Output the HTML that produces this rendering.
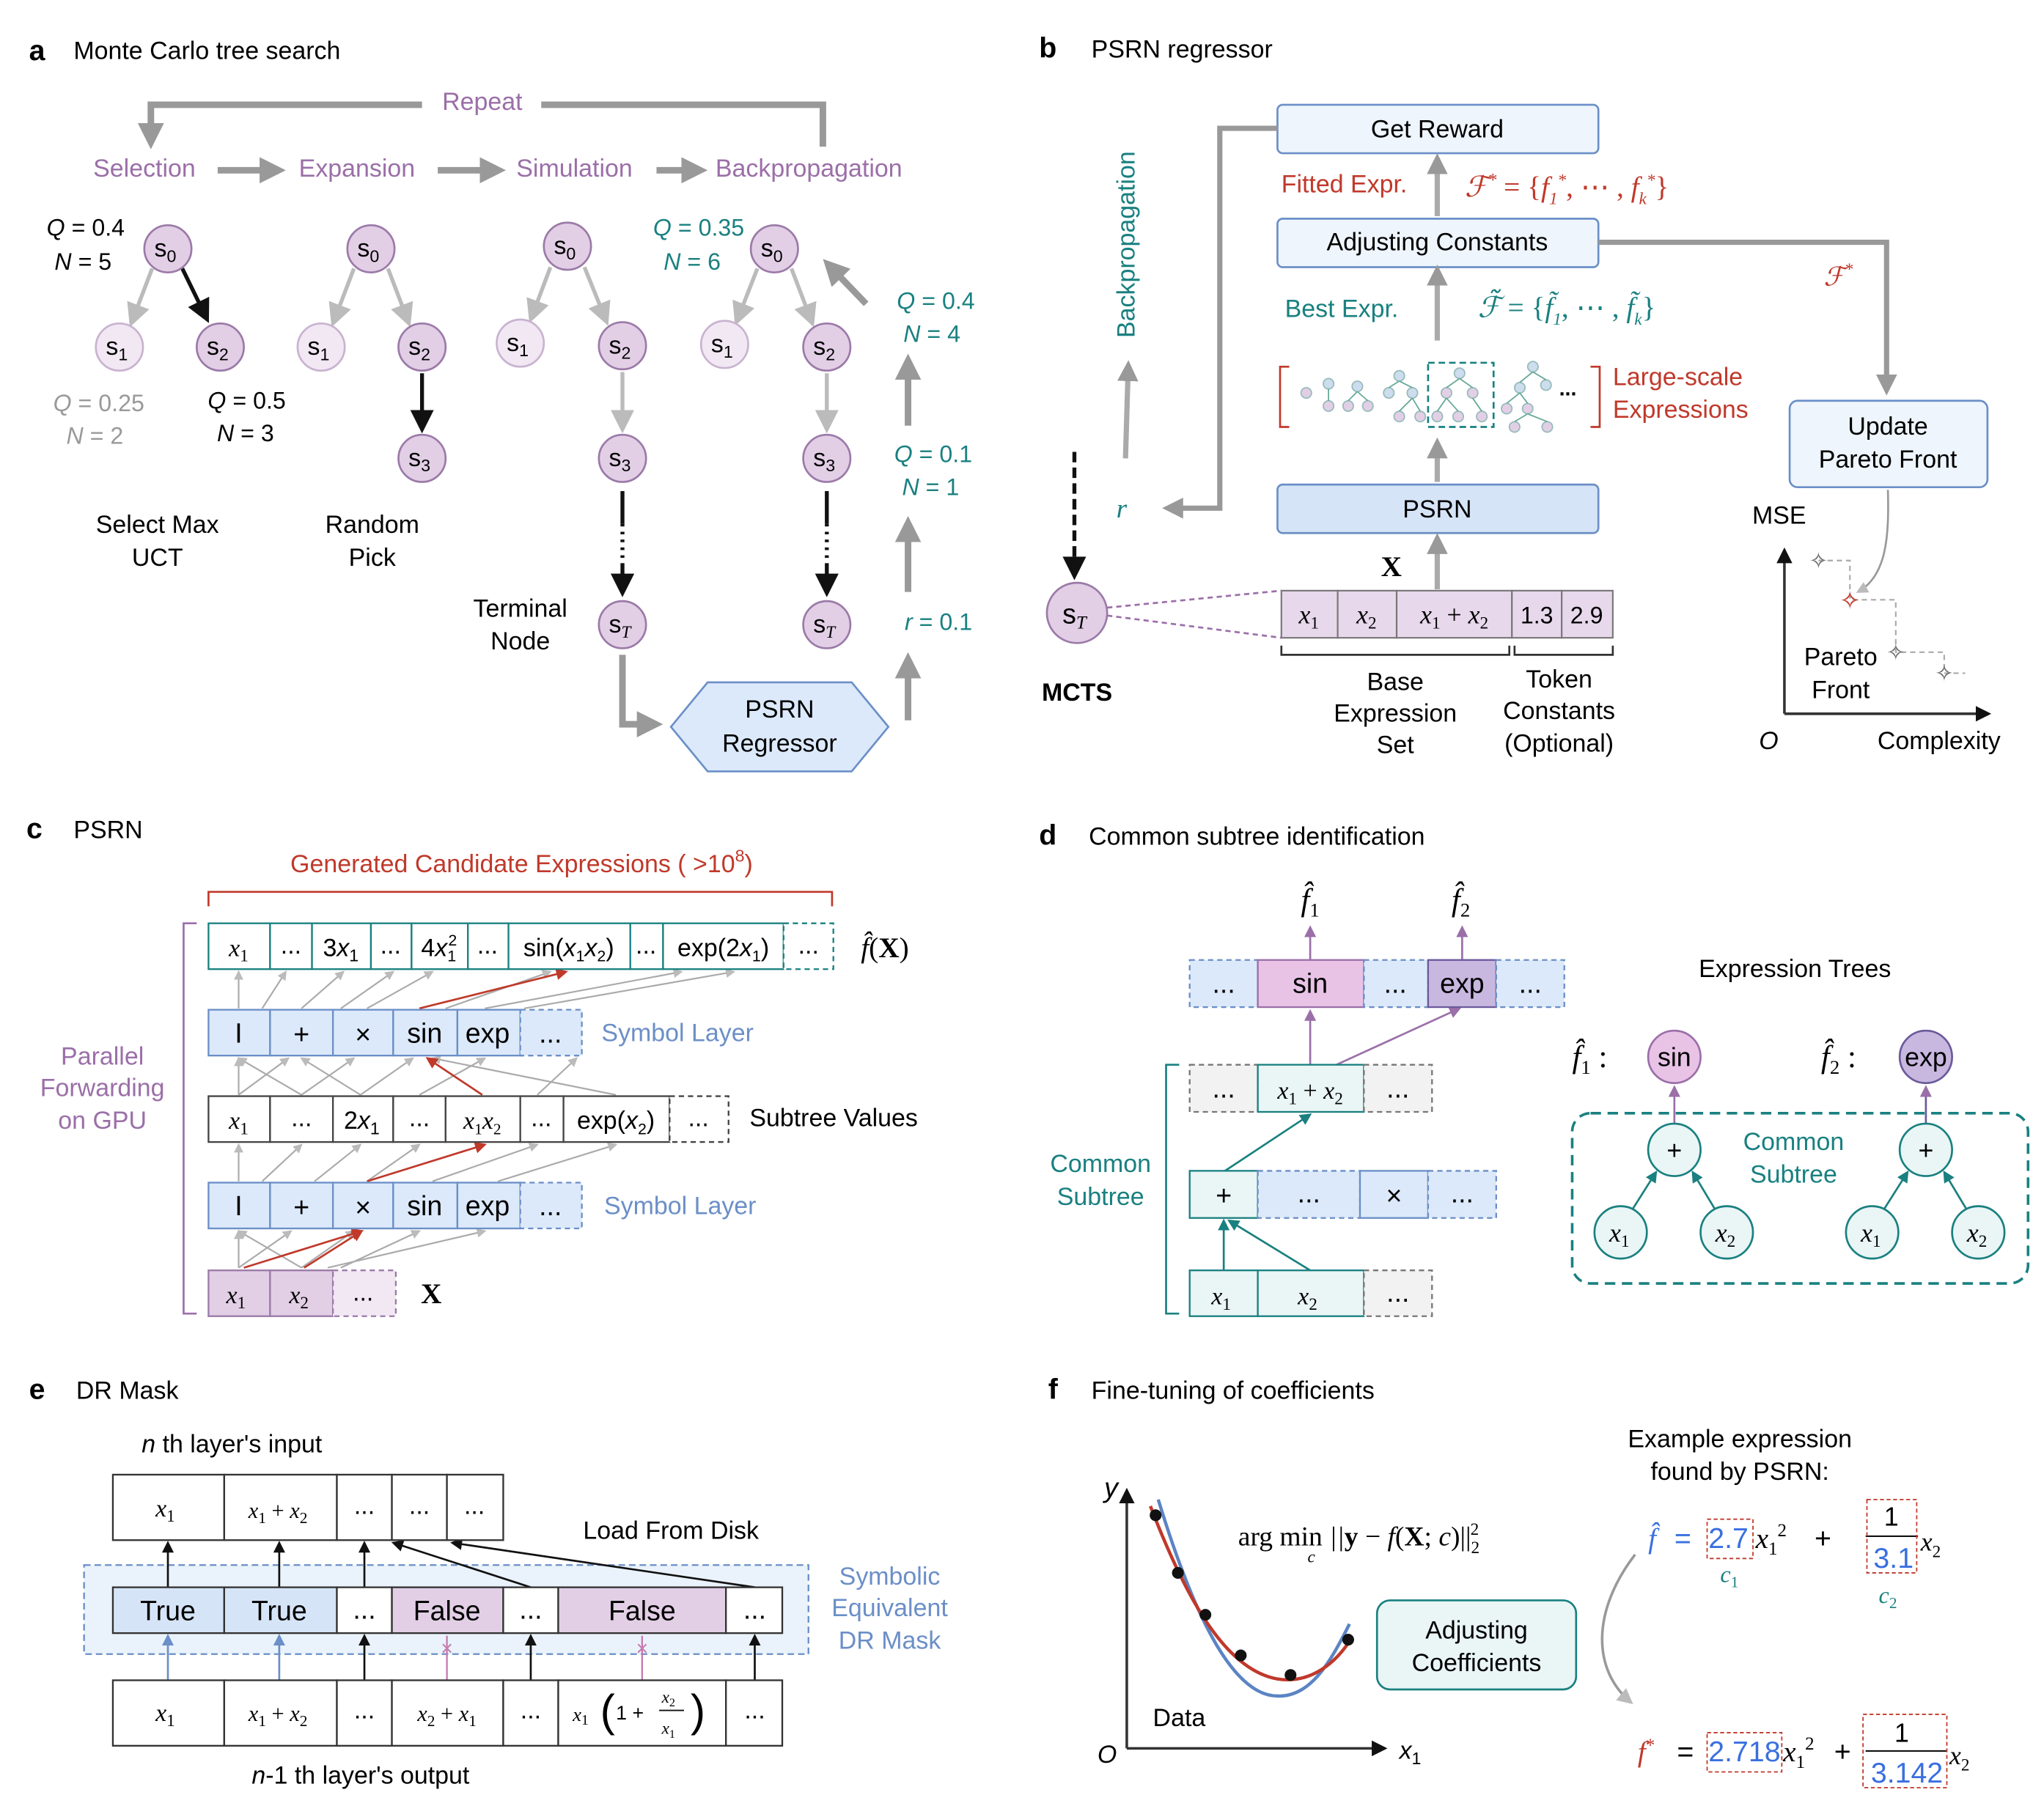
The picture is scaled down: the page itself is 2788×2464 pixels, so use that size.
<!DOCTYPE html>
<html><head><meta charset="utf-8">
<style>
html,body{margin:0;padding:0;background:#fff;}
svg{display:block;}
text{font-family:"Liberation Sans",sans-serif;}
.m{font-family:"Liberation Serif",serif;font-style:italic;}
.r{font-family:"Liberation Serif",serif;}
</style></head><body>
<svg width="2788" height="2464" viewBox="0 0 1560 1379" xmlns="http://www.w3.org/2000/svg">
<defs>
<marker id="ag" markerWidth="4" markerHeight="4" refX="2" refY="2" orient="auto" markerUnits="strokeWidth"><path d="M0,0L4,2L0,4z" fill="#999"/></marker>
<marker id="ak" markerWidth="6" markerHeight="6" refX="5" refY="3" orient="auto"><path d="M0,0L6,3L0,6z" fill="#111"/></marker>
<marker id="alg" markerWidth="6" markerHeight="6" refX="5" refY="3" orient="auto"><path d="M0,0L6,3L0,6z" fill="#bbb"/></marker>
<marker id="ar" markerWidth="6" markerHeight="6" refX="5" refY="3" orient="auto"><path d="M0,0L6,3L0,6z" fill="#c0392b"/></marker>
<marker id="at" markerWidth="6" markerHeight="6" refX="5" refY="3" orient="auto"><path d="M0,0L6,3L0,6z" fill="#1a8080"/></marker>
<marker id="ap" markerWidth="6" markerHeight="6" refX="5" refY="3" orient="auto"><path d="M0,0L6,3L0,6z" fill="#9b6fa8"/></marker>
<marker id="ab" markerWidth="6" markerHeight="6" refX="5" refY="3" orient="auto"><path d="M0,0L6,3L0,6z" fill="#6b8fc7"/></marker>
</defs>

<!-- ================= a ================= -->
<text x="22" y="46" font-size="22" font-weight="bold">a</text>
<text x="56" y="45" font-size="19">Monte Carlo tree search</text>
<path d="M628,112 V80 H413 M322,80 H115 V104" fill="none" stroke="#999" stroke-width="5" marker-end="url(#ag)"/>
<text x="368" y="84" font-size="19" fill="#9b6fa8" text-anchor="middle">Repeat</text>
<g font-size="19" fill="#9b6fa8">
<text x="71" y="135">Selection</text><text x="228" y="135">Expansion</text>
<text x="394" y="135">Simulation</text><text x="546" y="135">Backpropagation</text></g>
<g stroke="#999" stroke-width="5" marker-end="url(#ag)">
<line x1="166" y1="130" x2="208" y2="130"/><line x1="334" y1="130" x2="376" y2="130"/><line x1="501" y1="130" x2="530" y2="130"/></g>

<!-- tree edges -->
<g stroke="#bbb" stroke-width="3" marker-end="url(#alg)" fill="none">
<line x1="116" y1="205" x2="100" y2="247"/>
<line x1="270" y1="205" x2="254" y2="247"/><line x1="296" y1="205" x2="312" y2="247"/>
<line x1="420" y1="204" x2="405" y2="244"/><line x1="446" y1="204" x2="463" y2="246"/>
<line x1="475" y1="284" x2="475" y2="328"/>
<line x1="578" y1="205" x2="562" y2="246"/><line x1="604" y1="205" x2="620" y2="247"/>
<line x1="631" y1="285" x2="631" y2="328"/>
</g>
<g stroke="#111" stroke-width="3" marker-end="url(#ak)">
<line x1="139" y1="205" x2="158" y2="244"/>
<line x1="322" y1="285" x2="322" y2="328"/>
</g>
<g stroke="#111" stroke-width="3">
<line x1="475" y1="375" x2="475" y2="400"/><line x1="475" y1="430" x2="475" y2="453" marker-end="url(#ak)"/>
<line x1="631" y1="375" x2="631" y2="400"/><line x1="631" y1="430" x2="631" y2="453" marker-end="url(#ak)"/>
</g>
<g stroke="#111" stroke-width="3" stroke-dasharray="2,4"><line x1="475" y1="400" x2="475" y2="430"/><line x1="631" y1="400" x2="631" y2="430"/></g>

<g fill="#e2cfe6" stroke="#9b7aa8" stroke-width="1.5">
<circle cx="128" cy="190" r="18"/><circle cx="168" cy="265" r="18"/>
<circle cx="283" cy="190" r="18"/><circle cx="322" cy="265" r="18"/><circle cx="322" cy="350" r="18"/>
<circle cx="433" cy="188" r="18"/><circle cx="475" cy="264" r="18"/><circle cx="475" cy="350" r="18"/><circle cx="475" cy="477" r="18"/>
<circle cx="591" cy="190" r="18"/><circle cx="631" cy="265" r="18"/><circle cx="631" cy="350" r="18"/><circle cx="631" cy="477" r="18"/>
</g>
<g fill="#f2e8f4" stroke="#c9b3d0" stroke-width="1.5">
<circle cx="91" cy="265" r="18"/><circle cx="245" cy="265" r="18"/><circle cx="397" cy="262" r="18"/><circle cx="553" cy="263" r="18"/>
</g>
<g font-size="19" text-anchor="middle">
<text x="126" y="196">s<tspan font-size="13" dy="4">0</tspan></text>
<text x="89" y="271">s<tspan font-size="13" dy="4">1</tspan></text>
<text x="166" y="271">s<tspan font-size="13" dy="4">2</tspan></text>
<text x="281" y="196">s<tspan font-size="13" dy="4">0</tspan></text>
<text x="243" y="271">s<tspan font-size="13" dy="4">1</tspan></text>
<text x="320" y="271">s<tspan font-size="13" dy="4">2</tspan></text>
<text x="320" y="356">s<tspan font-size="13" dy="4">3</tspan></text>
<text x="431" y="194">s<tspan font-size="13" dy="4">0</tspan></text>
<text x="395" y="268">s<tspan font-size="13" dy="4">1</tspan></text>
<text x="473" y="270">s<tspan font-size="13" dy="4">2</tspan></text>
<text x="473" y="356">s<tspan font-size="13" dy="4">3</tspan></text>
<text x="473" y="483">s<tspan font-size="13" dy="4" class="m">T</tspan></text>
<text x="589" y="196">s<tspan font-size="13" dy="4">0</tspan></text>
<text x="551" y="269">s<tspan font-size="13" dy="4">1</tspan></text>
<text x="629" y="271">s<tspan font-size="13" dy="4">2</tspan></text>
<text x="629" y="356">s<tspan font-size="13" dy="4">3</tspan></text>
<text x="629" y="483">s<tspan font-size="13" dy="4" class="m">T</tspan></text>
</g>
<g font-size="18" text-anchor="end">
<text x="95" y="180"><tspan font-style="italic">Q</tspan> = 0.4</text>
<text x="85" y="206"><tspan font-style="italic">N</tspan> = 5</text>
<text x="110" y="314" fill="#999"><tspan font-style="italic">Q</tspan> = 0.25</text>
<text x="94" y="339" fill="#999"><tspan font-style="italic">N</tspan> = 2</text>
<text x="218" y="312"><tspan font-style="italic">Q</tspan> = 0.5</text>
<text x="209" y="337"><tspan font-style="italic">N</tspan> = 3</text>
</g>
<g font-size="18" fill="#1a8080" text-anchor="end">
<text x="568" y="180"><tspan font-style="italic">Q</tspan> = 0.35</text>
<text x="550" y="206"><tspan font-style="italic">N</tspan> = 6</text>
<text x="744" y="236"><tspan font-style="italic">Q</tspan> = 0.4</text>
<text x="733" y="261"><tspan font-style="italic">N</tspan> = 4</text>
<text x="742" y="353"><tspan font-style="italic">Q</tspan> = 0.1</text>
<text x="732" y="378"><tspan font-style="italic">N</tspan> = 1</text>
<text x="742" y="481"><tspan font-style="italic">r</tspan> = 0.1</text>
</g>
<g font-size="19" text-anchor="middle">
<text x="120" y="407">Select Max</text><text x="120" y="432">UCT</text>
<text x="284" y="407">Random</text><text x="284" y="432">Pick</text>
<text x="397" y="471">Terminal</text><text x="397" y="496">Node</text>
</g>
<g stroke="#999" stroke-width="5" fill="none" marker-end="url(#ag)">
<path d="M475,500 V553 H496"/>
<path d="M693,550 V508"/>
<path d="M693,452 V404"/>
<path d="M693,325 V280"/>
<path d="M661,232 L635,205"/>
</g>
<polygon points="512,555 540,521 650,521 678,555 650,589 540,589" fill="#dce9fa" stroke="#6b8fc7" stroke-width="1.5"/>
<text x="595" y="548" font-size="19" text-anchor="middle">PSRN</text>
<text x="595" y="574" font-size="19" text-anchor="middle">Regressor</text>

<!-- ================= b ================= -->
<text x="793" y="44" font-size="22" font-weight="bold">b</text>
<text x="833" y="44" font-size="19">PSRN regressor</text>
<g fill="#eef5fc" stroke="#6b8fc7" stroke-width="1.5">
<rect x="975" y="80" width="245" height="37" rx="4"/>
<rect x="975" y="167" width="245" height="37" rx="4"/>
<rect x="1366" y="306" width="151" height="66" rx="6"/>
</g>
<rect x="975" y="370" width="245" height="37" rx="4" fill="#d6e4f7" stroke="#6b8fc7" stroke-width="1.5"/>
<g font-size="19" text-anchor="middle">
<text x="1097" y="105">Get Reward</text>
<text x="1097" y="191">Adjusting Constants</text>
<text x="1097" y="395">PSRN</text>
<text x="1441" y="332">Update</text><text x="1441" y="357">Pareto Front</text>
</g>
<path d="M975,98 H931 V388 H895" fill="none" stroke="#999" stroke-width="4" marker-end="url(#ag)"/>
<path d="M1220,185 H1440 V294" fill="none" stroke="#999" stroke-width="4" marker-end="url(#ag)"/>
<g stroke="#aaa" stroke-width="4" fill="none" marker-end="url(#ag)">
<line x1="1097" y1="165" x2="1097" y2="125"/>
<line x1="1097" y1="260" x2="1097" y2="210"/>
<line x1="1097" y1="368" x2="1097" y2="342"/>
<line x1="1097" y1="450" x2="1097" y2="415"/>
<line x1="859" y1="350" x2="861" y2="283"/>
</g>
<text x="866" y="258" font-size="19" fill="#1a8080" transform="rotate(-90 866 258)">Backpropagation</text>
<text x="852" y="395" font-size="21" fill="#1a8080" class="m">r</text>
<text x="1026" y="147" font-size="19" fill="#c0392b" text-anchor="middle">Fitted Expr.</text>
<text x="1118" y="150" font-size="22" fill="#c0392b" class="m">ℱ<tspan font-size="14" dy="-8">*</tspan><tspan dy="8" font-style="normal"> = {</tspan>f<tspan font-size="13" dy="6">1</tspan><tspan font-size="13" dy="-14">*</tspan><tspan dy="8" font-style="normal">, ⋯ , </tspan>f<tspan font-size="13" dy="6">k</tspan><tspan font-size="13" dy="-14">*</tspan><tspan dy="8" font-style="normal">}</tspan></text>
<text x="1024" y="242" font-size="19" fill="#1a8080" text-anchor="middle">Best Expr.</text>
<text x="1128" y="242" font-size="22" fill="#1a8080" class="m">ℱ̃<tspan font-style="normal"> = {</tspan>f̃<tspan font-size="13" dy="6">1</tspan><tspan dy="-6" font-style="normal">, ⋯ , </tspan>f̃<tspan font-size="13" dy="6">k</tspan><tspan dy="-6" font-style="normal">}</tspan></text>
<text x="1392" y="218" font-size="20" fill="#c0392b" class="m">ℱ<tspan font-size="13" dy="-8">*</tspan></text>
<!-- large-scale expressions -->
<path d="M984,280 H977 V326 H984 M1214,280 H1221 V326 H1214" fill="none" stroke="#c0392b" stroke-width="1.5"/>
<g stroke="#9bb" stroke-width="1" fill="#e2cfe6">
<circle cx="997" cy="300" r="4"/><circle cx="1014" cy="293" r="4" fill="#cde"/><circle cx="1014" cy="310" r="4"/><circle cx="1036" cy="295" r="4" fill="#cde"/><circle cx="1029" cy="310" r="4"/><circle cx="1044" cy="310" r="4"/>
<circle cx="1060" cy="300" r="4" fill="#cde"/><circle cx="1068" cy="287" r="4" fill="#cde"/><circle cx="1078" cy="300" r="4" fill="#cde"/><circle cx="1068" cy="318" r="4"/><circle cx="1084" cy="318" r="4"/>
<circle cx="1114" cy="285" r="4" fill="#cde"/><circle cx="1104" cy="300" r="4"/><circle cx="1124" cy="300" r="4"/><circle cx="1097" cy="318" r="4"/><circle cx="1113" cy="318" r="4"/><circle cx="1131" cy="318" r="4"/>
<circle cx="1170" cy="280" r="4" fill="#cde"/><circle cx="1160" cy="296" r="4" fill="#cde"/><circle cx="1180" cy="294" r="4" fill="#cde"/><circle cx="1150" cy="312" r="4"/><circle cx="1166" cy="312" r="4"/><circle cx="1156" cy="326" r="4"/><circle cx="1181" cy="326" r="4"/>
</g>
<g stroke="#6a9" stroke-width="1">
<path d="M1014,297 V306 M1036,299 L1029,306 M1036,299 L1044,306 M1068,291 L1060,296 M1068,291 L1078,296 M1078,304 L1068,314 M1078,304 L1084,314 M1114,289 L1104,296 M1114,289 L1124,296 M1104,304 L1097,314 M1104,304 L1113,314 M1124,304 L1131,314 M1170,284 L1160,292 M1170,284 L1180,290 M1160,300 L1150,308 M1160,300 L1166,308 M1166,316 L1156,322 M1166,316 L1181,322"/>
</g>
<rect x="1090" y="277" width="50" height="49" fill="none" stroke="#1a8080" stroke-width="1.5" stroke-dasharray="5,3"/>
<text x="1190" y="302" font-size="16" font-weight="bold">...</text>
<text x="1231" y="294" font-size="19" fill="#c0392b">Large-scale</text>
<text x="1231" y="319" font-size="19" fill="#c0392b">Expressions</text>
<text x="1062" y="440" font-size="22" class="r" font-weight="bold" text-anchor="middle">X</text>
<!-- table -->
<g fill="#e8d8ec" stroke="#777" stroke-width="1.2">
<rect x="978" y="451" width="43" height="36"/><rect x="1021" y="451" width="45" height="36"/><rect x="1066" y="451" width="88" height="36"/><rect x="1154" y="451" width="38" height="36"/><rect x="1192" y="451" width="39" height="36"/>
</g>
<g font-size="20" text-anchor="middle">
<text x="999" y="476" class="m">x<tspan font-size="13" dy="4" font-style="normal">1</tspan></text>
<text x="1043" y="476" class="m">x<tspan font-size="13" dy="4" font-style="normal">2</tspan></text>
<text x="1110" y="476" class="m">x<tspan font-size="13" dy="4" font-style="normal">1</tspan><tspan dy="-4" font-style="normal"> + </tspan>x<tspan font-size="13" dy="4" font-style="normal">2</tspan></text>
<text x="1173" y="476" font-size="18">1.3</text>
<text x="1211" y="476" font-size="18">2.9</text>
</g>
<path d="M978,493 V500 H1152 V493 M1156,493 V500 H1231 V493" fill="none" stroke="#333" stroke-width="1.5"/>
<g font-size="19" text-anchor="middle">
<text x="1065" y="527">Base</text><text x="1065" y="551">Expression</text><text x="1065" y="575">Set</text>
<text x="1190" y="525">Token</text><text x="1190" y="549">Constants</text><text x="1190" y="574">(Optional)</text>
</g>
<line x1="820" y1="345" x2="820" y2="432" stroke="#111" stroke-width="3" stroke-dasharray="8,4"/>
<line x1="820" y1="425" x2="820" y2="440" stroke="#111" stroke-width="3" marker-end="url(#ak)"/>
<circle cx="822" cy="468" r="23" fill="#e2cfe6" stroke="#9b7aa8" stroke-width="1.5"/>
<text x="820" y="476" font-size="21" text-anchor="middle">s<tspan font-size="14" dy="4" class="m">T</tspan></text>
<path d="M845,464 L978,451 M845,470 L978,487" stroke="#9b6fa8" stroke-width="1.5" stroke-dasharray="4,3"/>
<text x="822" y="535" font-size="19" font-weight="bold" text-anchor="middle">MCTS</text>
<!-- pareto -->
<path d="M1362,545 V420" stroke="#333" stroke-width="2" marker-end="url(#ak)"/>
<path d="M1362,545 H1518" stroke="#333" stroke-width="2" marker-end="url(#ak)"/>
<text x="1358" y="400" font-size="19" text-anchor="middle">MSE</text>
<text x="1350" y="572" font-size="19" font-style="italic" text-anchor="middle">O</text>
<text x="1480" y="572" font-size="19" text-anchor="middle">Complexity</text>
<text x="1405" y="508" font-size="19" text-anchor="middle">Pareto</text>
<text x="1405" y="533" font-size="19" text-anchor="middle">Front</text>
<path d="M1388,428 H1412 V458 H1447 V498 H1484 V514 H1500" fill="none" stroke="#aaa" stroke-width="1.2" stroke-dasharray="4,3"/>
<g font-size="17" text-anchor="middle" fill="#666"><text x="1388" y="434">✧</text><text x="1447" y="504">✧</text><text x="1484" y="520">✧</text></g>
<text x="1412" y="465" font-size="19" fill="#c0392b" text-anchor="middle">✧</text>
<path d="M1441,374 C1442,410 1440,440 1418,452" fill="none" stroke="#999" stroke-width="1.5" marker-end="url(#alg)"/>

<!-- ================= c ================= -->
<text x="20" y="640" font-size="22" font-weight="bold">c</text>
<text x="56" y="640" font-size="19">PSRN</text>
<text x="398" y="666" font-size="19" fill="#c0392b" text-anchor="middle">Generated Candidate Expressions ( &gt;10<tspan font-size="13" dy="-8">8</tspan><tspan dy="8">)</tspan></text>
<path d="M159,692 V681 H635 V692" fill="none" stroke="#c0392b" stroke-width="1.5"/>
<path d="M150,705 H140 V1003 H150" fill="none" stroke="#9b6fa8" stroke-width="1.5"/>
<g font-size="19" fill="#9b6fa8" text-anchor="middle"><text x="78" y="813">Parallel</text><text x="78" y="837">Forwarding</text><text x="78" y="862">on GPU</text></g>
<!-- connections c -->
<g stroke="#aaa" stroke-width="1.2" marker-end="url(#alg)">
<line x1="182" y1="770" x2="182" y2="742"/><line x1="200" y1="770" x2="218" y2="742"/><line x1="230" y1="770" x2="262" y2="742"/><line x1="260" y1="770" x2="300" y2="742"/><line x1="280" y1="770" x2="330" y2="742"/><line x1="340" y1="770" x2="420" y2="742"/><line x1="370" y1="770" x2="520" y2="742"/><line x1="400" y1="770" x2="560" y2="742"/>
<line x1="182" y1="836" x2="182" y2="808"/><line x1="182" y1="836" x2="220" y2="808"/><line x1="230" y1="836" x2="182" y2="808"/><line x1="230" y1="836" x2="270" y2="808"/><line x1="275" y1="836" x2="230" y2="808"/><line x1="275" y1="836" x2="315" y2="808"/><line x1="320" y1="836" x2="370" y2="808"/><line x1="410" y1="836" x2="440" y2="808"/><line x1="470" y1="836" x2="330" y2="808"/>
<line x1="182" y1="902" x2="182" y2="874"/><line x1="200" y1="902" x2="230" y2="874"/><line x1="240" y1="902" x2="275" y2="874"/><line x1="280" y1="902" x2="320" y2="874"/><line x1="330" y1="902" x2="410" y2="874"/><line x1="380" y1="902" x2="470" y2="874"/>
<line x1="182" y1="968" x2="182" y2="940"/><line x1="182" y1="968" x2="222" y2="940"/><line x1="230" y1="968" x2="182" y2="940"/><line x1="230" y1="968" x2="270" y2="940"/><line x1="250" y1="968" x2="370" y2="940"/><line x1="260" y1="968" x2="320" y2="940"/>
</g>
<g stroke="#c0392b" stroke-width="1.5" marker-end="url(#ar)">
<line x1="320" y1="770" x2="432" y2="742"/>
<line x1="368" y1="836" x2="326" y2="808"/>
<line x1="280" y1="902" x2="370" y2="874"/>
<line x1="186" y1="968" x2="276" y2="940"/><line x1="232" y1="968" x2="276" y2="940"/>
</g>
<!-- rows c -->
<g fill="#fff" stroke="#1a8080" stroke-width="1.3">
<rect x="159" y="705" width="47" height="35"/><rect x="206" y="705" width="32" height="35"/><rect x="238" y="705" width="45" height="35"/><rect x="283" y="705" width="31" height="35"/><rect x="314" y="705" width="43" height="35"/><rect x="357" y="705" width="31" height="35"/><rect x="388" y="705" width="93" height="35"/><rect x="481" y="705" width="25" height="35"/><rect x="506" y="705" width="92" height="35"/>
</g>
<rect x="598" y="705" width="38" height="35" fill="#fff" stroke="#1a8080" stroke-width="1.3" stroke-dasharray="4,3"/>
<g font-size="19" text-anchor="middle" class="r">
<text x="182" y="730" class="m">x<tspan font-size="13" dy="4" font-style="normal">1</tspan></text>
<text x="222" y="728">...</text>
<text x="260" y="730">3<tspan font-style="italic">x</tspan><tspan font-size="13" dy="4">1</tspan></text>
<text x="298" y="728">...</text>
<text x="335" y="730">4<tspan font-style="italic">x</tspan><tspan font-size="12" dy="4">1</tspan><tspan font-size="12" dx="-6" dy="-12">2</tspan></text>
<text x="372" y="728">...</text>
<text x="434" y="730">sin(<tspan font-style="italic">x</tspan><tspan font-size="12" dy="4">1</tspan><tspan dy="-4" font-style="italic">x</tspan><tspan font-size="12" dy="4">2</tspan><tspan dy="-4">)</tspan></text>
<text x="493" y="728">...</text>
<text x="552" y="730">exp(2<tspan font-style="italic">x</tspan><tspan font-size="12" dy="4">1</tspan><tspan dy="-4">)</tspan></text>
<text x="617" y="728">...</text>
</g>
<text x="657" y="731" font-size="22" class="m">f̂<tspan font-style="normal">(</tspan><tspan font-weight="bold" font-style="normal">X</tspan><tspan font-style="normal">)</tspan></text>
<!-- symbol layers -->
<g id="sl">
<g fill="#dce9fa" stroke="#6b8fc7" stroke-width="1.3">
<rect x="159" y="771" width="47" height="35"/><rect x="206" y="771" width="48" height="35"/><rect x="254" y="771" width="46" height="35"/><rect x="300" y="771" width="49" height="35"/><rect x="349" y="771" width="48" height="35"/></g>
<rect x="397" y="771" width="47" height="35" fill="#dce9fa" stroke="#6b8fc7" stroke-width="1.3" stroke-dasharray="4,3"/>
<g font-size="21" text-anchor="middle" class="r"><text x="182" y="796">I</text><text x="230" y="797">+</text><text x="277" y="797">×</text><text x="324" y="796">sin</text><text x="372" y="796">exp</text><text x="420" y="796">...</text></g>
</g>
<use href="#sl" y="132"/>
<text x="459" y="795" font-size="19" fill="#6b8fc7">Symbol Layer</text>
<text x="461" y="927" font-size="19" fill="#6b8fc7">Symbol Layer</text>
<g fill="#fff" stroke="#444" stroke-width="1.3">
<rect x="159" y="837" width="47" height="35"/><rect x="206" y="837" width="48" height="35"/><rect x="254" y="837" width="46" height="35"/><rect x="300" y="837" width="40" height="35"/><rect x="340" y="837" width="57" height="35"/><rect x="397" y="837" width="33" height="35"/><rect x="430" y="837" width="81" height="35"/></g>
<rect x="511" y="837" width="45" height="35" fill="#fff" stroke="#444" stroke-width="1.3" stroke-dasharray="4,3"/>
<g font-size="19" text-anchor="middle" class="r">
<text x="182" y="862" class="m">x<tspan font-size="13" dy="4" font-style="normal">1</tspan></text>
<text x="230" y="860">...</text>
<text x="276" y="862">2<tspan font-style="italic">x</tspan><tspan font-size="13" dy="4">1</tspan></text>
<text x="320" y="860">...</text>
<text x="368" y="862" class="m">x<tspan font-size="12" dy="4" font-style="normal">1</tspan><tspan dy="-4">x</tspan><tspan font-size="12" dy="4" font-style="normal">2</tspan></text>
<text x="413" y="860">...</text>
<text x="470" y="862">exp(<tspan font-style="italic">x</tspan><tspan font-size="12" dy="4">2</tspan><tspan dy="-4">)</tspan></text>
<text x="533" y="860">...</text>
</g>
<text x="572" y="860" font-size="19">Subtree Values</text>
<g fill="#e2cfe6" stroke="#9b7aa8" stroke-width="1.3"><rect x="159" y="970" width="47" height="35"/><rect x="206" y="970" width="48" height="35"/></g>
<rect x="254" y="970" width="48" height="35" fill="#f2e8f4" stroke="#9b7aa8" stroke-width="1.3" stroke-dasharray="4,3"/>
<g font-size="19" text-anchor="middle" class="r">
<text x="180" y="995" class="m">x<tspan font-size="13" dy="4" font-style="normal">1</tspan></text>
<text x="228" y="995" class="m">x<tspan font-size="13" dy="4" font-style="normal">2</tspan></text>
<text x="277" y="993">...</text></g>
<text x="329" y="995" font-size="22" class="r" font-weight="bold" text-anchor="middle">X</text>

<!-- ================= d ================= -->
<text x="793" y="645" font-size="22" font-weight="bold">d</text>
<text x="831" y="645" font-size="19">Common subtree identification</text>
<text x="1000" y="695" font-size="24" class="m" text-anchor="middle">f̂<tspan font-size="15" dy="5" font-style="normal">1</tspan></text>
<text x="1115" y="695" font-size="24" class="m" text-anchor="middle">f̂<tspan font-size="15" dy="5" font-style="normal">2</tspan></text>
<g stroke-width="1.5" marker-end="url(#ap)" stroke="#9b6fa8">
<line x1="1000" y1="733" x2="1000" y2="708"/><line x1="1116" y1="733" x2="1116" y2="708"/>
<line x1="1000" y1="813" x2="1000" y2="772"/><line x1="1020" y1="813" x2="1114" y2="770"/>
</g>
<g stroke="#1a8080" stroke-width="1.5" marker-end="url(#at)">
<line x1="935" y1="894" x2="1000" y2="851"/>
<line x1="934" y1="970" x2="934" y2="932"/><line x1="1000" y1="970" x2="938" y2="932"/>
</g>
<g stroke-width="1.3">
<rect x="908" y="733" width="52" height="36" fill="#dce9fa" stroke="#6b8fc7" stroke-dasharray="4,3"/>
<rect x="960" y="733" width="81" height="36" fill="#e8c3e6" stroke="#9b6fa8"/>
<rect x="1041" y="733" width="49" height="36" fill="#dce9fa" stroke="#6b8fc7" stroke-dasharray="4,3"/>
<rect x="1090" y="733" width="52" height="36" fill="#c8b8e0" stroke="#6b5a9b"/>
<rect x="1142" y="733" width="52" height="36" fill="#dce9fa" stroke="#6b8fc7" stroke-dasharray="4,3"/>
<rect x="908" y="813" width="52" height="36" fill="#f2f2f2" stroke="#777" stroke-dasharray="4,3"/>
<rect x="960" y="813" width="81" height="36" fill="#eaf5f5" stroke="#1a8080"/>
<rect x="1041" y="813" width="52" height="36" fill="#f2f2f2" stroke="#777" stroke-dasharray="4,3"/>
<rect x="908" y="894" width="52" height="36" fill="#eaf5f5" stroke="#1a8080"/>
<rect x="960" y="894" width="78" height="36" fill="#dce9fa" stroke="#6b8fc7" stroke-dasharray="4,3"/>
<rect x="1038" y="894" width="52" height="36" fill="#dce9fa" stroke="#6b8fc7"/>
<rect x="1090" y="894" width="52" height="36" fill="#dce9fa" stroke="#6b8fc7" stroke-dasharray="4,3"/>
<rect x="908" y="970" width="52" height="35" fill="#eaf5f5" stroke="#1a8080"/>
<rect x="960" y="970" width="81" height="35" fill="#eaf5f5" stroke="#1a8080"/>
<rect x="1041" y="970" width="52" height="35" fill="#f2f2f2" stroke="#777" stroke-dasharray="4,3"/>
</g>
<g font-size="21" text-anchor="middle" class="r">
<text x="934" y="758">...</text><text x="1000" y="758">sin</text><text x="1065" y="758">...</text><text x="1116" y="758">exp</text><text x="1168" y="758">...</text>
<text x="934" y="838">...</text>
<text x="1000" y="839" font-size="19" class="m">x<tspan font-size="13" dy="4" font-style="normal">1</tspan><tspan dy="-4" font-style="normal"> + </tspan>x<tspan font-size="13" dy="4" font-style="normal">2</tspan></text>
<text x="1067" y="838">...</text>
<text x="934" y="920">+</text><text x="999" y="918">...</text><text x="1064" y="920">×</text><text x="1116" y="918">...</text>
<text x="932" y="996" font-size="19" class="m">x<tspan font-size="13" dy="4" font-style="normal">1</tspan></text>
<text x="998" y="996" font-size="19" class="m">x<tspan font-size="13" dy="4" font-style="normal">2</tspan></text>
<text x="1067" y="994">...</text>
</g>
<path d="M900,813 H890 V1003 H900" fill="none" stroke="#1a8080" stroke-width="1.5"/>
<g font-size="19" fill="#1a8080" text-anchor="middle"><text x="840" y="895">Common</text><text x="840" y="920">Subtree</text></g>
<text x="1370" y="746" font-size="19" text-anchor="middle">Expression Trees</text>
<rect x="1200" y="850" width="348" height="130" rx="14" fill="none" stroke="#1a8080" stroke-width="2" stroke-dasharray="8,5"/>
<g font-size="19" fill="#1a8080" text-anchor="middle"><text x="1369" y="878">Common</text><text x="1369" y="903">Subtree</text></g>
<text x="1200" y="815" font-size="24" class="m">f̂<tspan font-size="15" dy="5" font-style="normal">1</tspan><tspan dy="-5" font-style="normal"> :</tspan></text>
<text x="1390" y="815" font-size="24" class="m">f̂<tspan font-size="15" dy="5" font-style="normal">2</tspan><tspan dy="-5" font-style="normal"> :</tspan></text>
<g stroke-width="1.5">
<line x1="1278" y1="858" x2="1278" y2="830" stroke="#9b6fa8" marker-end="url(#ap)"/>
<line x1="1470" y1="858" x2="1470" y2="830" stroke="#6b5a9b" marker-end="url(#ap)"/>
<g stroke="#1a8080" marker-end="url(#at)">
<line x1="1245" y1="925" x2="1264" y2="895"/><line x1="1310" y1="925" x2="1292" y2="895"/>
<line x1="1437" y1="925" x2="1456" y2="895"/><line x1="1502" y1="925" x2="1484" y2="895"/></g>
</g>
<circle cx="1278" cy="807" r="20" fill="#e8c3e6" stroke="#9b6fa8" stroke-width="1.5"/>
<circle cx="1470" cy="807" r="20" fill="#c8b8e0" stroke="#6b5a9b" stroke-width="1.5"/>
<g fill="#eaf5f5" stroke="#1a8080" stroke-width="1.5">
<circle cx="1278" cy="878" r="20"/><circle cx="1237" cy="941" r="20"/><circle cx="1318" cy="941" r="20"/>
<circle cx="1470" cy="878" r="20"/><circle cx="1429" cy="941" r="20"/><circle cx="1510" cy="941" r="20"/></g>
<g font-size="20" text-anchor="middle" class="r">
<text x="1278" y="814">sin</text><text x="1470" y="814">exp</text>
<text x="1278" y="885">+</text><text x="1470" y="885">+</text>
<text x="1236" y="948" class="m">x<tspan font-size="13" dy="4" font-style="normal">1</tspan></text>
<text x="1317" y="948" class="m">x<tspan font-size="13" dy="4" font-style="normal">2</tspan></text>
<text x="1428" y="948" class="m">x<tspan font-size="13" dy="4" font-style="normal">1</tspan></text>
<text x="1509" y="948" class="m">x<tspan font-size="13" dy="4" font-style="normal">2</tspan></text>
</g>

<!-- ================= e ================= -->
<text x="22" y="1068" font-size="22" font-weight="bold">e</text>
<text x="58" y="1068" font-size="19">DR Mask</text>
<text x="108" y="1109" font-size="19"><tspan font-style="italic">n</tspan> th layer's input</text>
<text x="445" y="1175" font-size="19">Load From Disk</text>
<rect x="64" y="1195" width="553" height="68" fill="#eaf3fb" stroke="#6b8fc7" stroke-width="1.3" stroke-dasharray="5,3"/>
<g font-size="19" fill="#6b8fc7" text-anchor="middle"><text x="679" y="1210">Symbolic</text><text x="679" y="1234">Equivalent</text><text x="679" y="1259">DR Mask</text></g>
<g stroke="#111" stroke-width="1.5" marker-end="url(#ak)">
<line x1="128" y1="1212" x2="128" y2="1178"/><line x1="213" y1="1212" x2="213" y2="1178"/><line x1="278" y1="1212" x2="278" y2="1178"/>
<line x1="405" y1="1212" x2="300" y2="1178"/><line x1="576" y1="1212" x2="345" y2="1178"/>
<line x1="278" y1="1283" x2="278" y2="1249"/><line x1="405" y1="1283" x2="405" y2="1249"/><line x1="576" y1="1283" x2="576" y2="1249"/>
</g>
<g stroke="#6b8fc7" stroke-width="1.5" marker-end="url(#ab)"><line x1="128" y1="1283" x2="128" y2="1249"/><line x1="213" y1="1283" x2="213" y2="1249"/></g>
<g stroke="#c77ab0" stroke-width="1.3"><line x1="341" y1="1283" x2="341" y2="1249"/><line x1="490" y1="1283" x2="490" y2="1249"/></g>
<g font-size="16" fill="#c77ab0" text-anchor="middle"><text x="341" y="1264">×</text><text x="490" y="1264">×</text></g>
<g fill="#fff" stroke="#333" stroke-width="1.3">
<rect x="86" y="1126" width="85" height="50"/><rect x="171" y="1126" width="86" height="50"/><rect x="257" y="1126" width="42" height="50"/><rect x="299" y="1126" width="42" height="50"/><rect x="341" y="1126" width="43" height="50"/>
<rect x="86" y="1283" width="85" height="50"/><rect x="171" y="1283" width="86" height="50"/><rect x="257" y="1283" width="42" height="50"/><rect x="299" y="1283" width="85" height="50"/><rect x="384" y="1283" width="42" height="50"/><rect x="426" y="1283" width="128" height="50"/><rect x="554" y="1283" width="43" height="50"/>
</g>
<g stroke="#333" stroke-width="1.3">
<rect x="86" y="1212" width="85" height="35" fill="#d6e4f7"/><rect x="171" y="1212" width="86" height="35" fill="#d6e4f7"/>
<rect x="257" y="1212" width="42" height="35" fill="#fff"/><rect x="299" y="1212" width="85" height="35" fill="#e2cfe6"/>
<rect x="384" y="1212" width="42" height="35" fill="#fff"/><rect x="426" y="1212" width="128" height="35" fill="#e2cfe6"/><rect x="554" y="1212" width="43" height="35" fill="#fff"/>
</g>
<g font-size="21" text-anchor="middle"><text x="128" y="1237">True</text><text x="213" y="1237">True</text><text x="278" y="1236">...</text><text x="341" y="1237">False</text><text x="405" y="1236">...</text><text x="490" y="1237">False</text><text x="576" y="1236">...</text></g>
<g font-size="19" text-anchor="middle" class="r">
<text x="126" y="1158" class="m">x<tspan font-size="13" dy="4" font-style="normal">1</tspan></text>
<text x="212" y="1159" class="m" font-size="17">x<tspan font-size="12" dy="4" font-style="normal">1</tspan><tspan dy="-4" font-style="normal"> + </tspan>x<tspan font-size="12" dy="4" font-style="normal">2</tspan></text>
<text x="278" y="1156">...</text><text x="320" y="1156">...</text><text x="362" y="1156">...</text>
<text x="126" y="1314" class="m">x<tspan font-size="13" dy="4" font-style="normal">1</tspan></text>
<text x="212" y="1314" class="m" font-size="17">x<tspan font-size="12" dy="4" font-style="normal">1</tspan><tspan dy="-4" font-style="normal"> + </tspan>x<tspan font-size="12" dy="4" font-style="normal">2</tspan></text>
<text x="278" y="1312">...</text>
<text x="341" y="1314" class="m" font-size="17">x<tspan font-size="12" dy="4" font-style="normal">2</tspan><tspan dy="-4" font-style="normal"> + </tspan>x<tspan font-size="12" dy="4" font-style="normal">1</tspan></text>
<text x="405" y="1312">...</text>
<text x="576" y="1312">...</text>
</g>
<g class="r" font-size="15">
<text x="437" y="1314" class="m">x<tspan font-size="11" dy="3" font-style="normal">1</tspan></text>
<text x="458" y="1318" font-size="34" font-style="normal">(</text>
<text x="470" y="1313" font-style="normal">1 +</text>
<text x="505" y="1300" class="m" font-size="13">x<tspan font-size="9" dy="3" font-style="normal">2</tspan></text>
<line x1="503" y1="1306" x2="522" y2="1306" stroke="#111" stroke-width="1"/>
<text x="505" y="1324" class="m" font-size="13">x<tspan font-size="9" dy="3" font-style="normal">1</tspan></text>
<text x="527" y="1318" font-size="34" font-style="normal">)</text>
</g>
<text x="192" y="1362" font-size="19"><tspan font-style="italic">n</tspan>-1 th layer's output</text>

<!-- ================= f ================= -->
<text x="800" y="1068" font-size="22" font-weight="bold">f</text>
<text x="833" y="1068" font-size="19">Fine-tuning of coefficients</text>
<path d="M860,1335 V1138" stroke="#333" stroke-width="2" marker-end="url(#ak)"/>
<path d="M860,1335 H1057" stroke="#333" stroke-width="2" marker-end="url(#ak)"/>
<text x="848" y="1143" font-size="21" font-style="italic" text-anchor="middle">y</text>
<text x="845" y="1346" font-size="19" font-style="italic" text-anchor="middle">O</text>
<text x="1068" y="1343" font-size="19" font-style="italic">x<tspan font-size="13" dy="4" font-style="normal">1</tspan></text>
<text x="900" y="1318" font-size="19" text-anchor="middle">Data</text>
<path d="M884,1145 C910,1230 940,1295 975,1295 C1000,1296 1015,1270 1030,1240" fill="none" stroke="#5b84c4" stroke-width="2.5"/>
<path d="M878,1150 C905,1220 935,1275 975,1282 C1000,1286 1020,1270 1032,1250" fill="none" stroke="#c0392b" stroke-width="2.5"/>
<g fill="#111"><circle cx="882" cy="1157" r="4.5"/><circle cx="899" cy="1201" r="4.5"/><circle cx="920" cy="1233" r="4.5"/><circle cx="947" cy="1264" r="4.5"/><circle cx="985" cy="1279" r="4.5"/><circle cx="1029" cy="1252" r="4.5"/></g>
<text x="945" y="1180" font-size="21" class="r">arg min <tspan font-style="italic">||</tspan><tspan font-weight="bold">y</tspan> − <tspan font-style="italic">f</tspan>(<tspan font-weight="bold">X</tspan>; <tspan font-style="italic">c</tspan>)||<tspan font-size="13" dy="6">2</tspan><tspan font-size="13" dx="-7" dy="-14">2</tspan></text>
<text x="998" y="1193" font-size="13" class="m">c</text>
<rect x="1051" y="1222" width="152" height="68" rx="10" fill="#eaf5f5" stroke="#1a8080" stroke-width="1.5"/>
<text x="1127" y="1251" font-size="19" text-anchor="middle">Adjusting</text>
<text x="1127" y="1276" font-size="19" text-anchor="middle">Coefficients</text>
<text x="1328" y="1105" font-size="19" text-anchor="middle">Example expression</text>
<text x="1328" y="1130" font-size="19" text-anchor="middle">found by PSRN:</text>
<g class="r" font-size="22">
<text x="1258" y="1182" fill="#3a6fe0" class="m">f̂</text>
<text x="1278" y="1182" fill="#3a6fe0">=</text>
<rect x="1303" y="1160" width="35" height="30" fill="none" stroke="#c0392b" stroke-dasharray="3,2"/>
<text x="1304" y="1182" fill="#3a6fe0">2.7</text>
<text x="1340" y="1182" class="m">x<tspan font-size="14" dy="5" font-style="normal">1</tspan><tspan font-size="14" dy="-14" font-style="normal">2</tspan></text>
<text x="1385" y="1182">+</text>
<text x="1438" y="1165" font-size="20">1</text>
<line x1="1424" y1="1173" x2="1464" y2="1173" stroke="#111" stroke-width="1.2"/>
<rect x="1425" y="1145" width="38" height="56" fill="none" stroke="#c0392b" stroke-dasharray="3,2"/>
<text x="1430" y="1197" fill="#3a6fe0">3.1</text>
<text x="1466" y="1184" class="m" font-size="20">x<tspan font-size="13" dy="5" font-style="normal">2</tspan></text>
<text x="1313" y="1208" fill="#1a8080" class="m" font-size="18">c<tspan font-size="12" dy="4" font-style="normal">1</tspan></text>
<text x="1434" y="1224" fill="#1a8080" class="m" font-size="18">c<tspan font-size="12" dy="4" font-style="normal">2</tspan></text>
<text x="1250" y="1345" fill="#c0392b" class="m">f<tspan font-size="14" dy="-8" font-style="normal">*</tspan></text>
<text x="1280" y="1345">=</text>
<rect x="1303" y="1323" width="57" height="30" fill="none" stroke="#c0392b" stroke-dasharray="3,2"/>
<text x="1304" y="1345" fill="#3a6fe0">2.718</text>
<text x="1361" y="1345" class="m">x<tspan font-size="14" dy="5" font-style="normal">1</tspan><tspan font-size="14" dy="-14" font-style="normal">2</tspan></text>
<text x="1400" y="1345">+</text>
<text x="1446" y="1330" font-size="20">1</text>
<line x1="1424" y1="1337" x2="1486" y2="1337" stroke="#111" stroke-width="1.2"/>
<rect x="1422" y="1309" width="64" height="56" fill="none" stroke="#c0392b" stroke-dasharray="3,2"/>
<text x="1428" y="1361" fill="#3a6fe0">3.142</text>
<text x="1488" y="1347" class="m" font-size="20">x<tspan font-size="13" dy="5" font-style="normal">2</tspan></text>
</g>
<path d="M1248,1187 C1215,1230 1215,1275 1245,1300" fill="none" stroke="#999" stroke-width="2" marker-end="url(#alg)"/>
</svg>
</body></html>
